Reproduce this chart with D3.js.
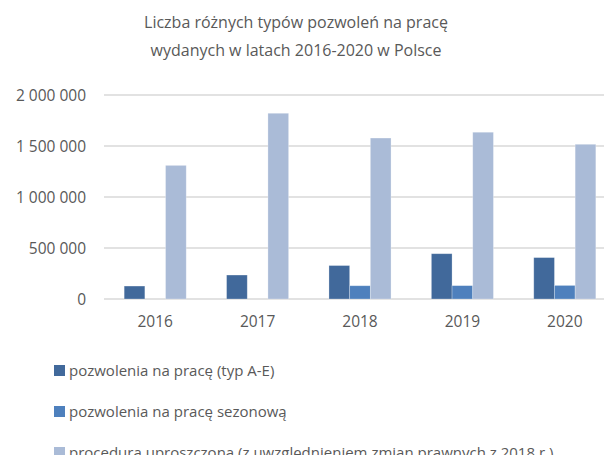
<!DOCTYPE html>
<html>
<head>
<meta charset="utf-8">
<script src="https://cdn.jsdelivr.net/npm/d3@7"></script>
<style>
  html, body { margin: 0; padding: 0; background: #fff; }
  svg { display: block; }
  text { font-family: "Open Sans", "Liberation Sans", sans-serif; fill: #595959; }
</style>
</head>
<body>
<svg id="chart" width="604" height="455"></svg>
<script>
const years = ["2016", "2017", "2018", "2019", "2020"];
const seriesNames = [
  "pozwolenia na pracę (typ A-E)",
  "pozwolenia na pracę sezonową",
  "procedura uproszczona (z uwzględnieniem zmian prawnych z 2018 r.)"
];
const typAE = [127000, 235000, 328000, 444000, 406000];
const sezonowe = [0, 0, 130000, 131000, 133000];
const uproszczona = [1310000, 1821000, 1578000, 1635000, 1517000];
const yTicks = [0, 500000, 1000000, 1500000, 2000000];
const titleLines = ["Liczba różnych typów pozwoleń na pracę", "wydanych w latach 2016-2020 w Polsce"];
const colors = ["#41699b", "#4e80bd", "#aabbd7"];

const seriesData = [typAE, sezonowe, uproszczona];

const svg = d3.select("#chart");

const x0 = d3.scaleBand().domain(years).range([104, 616]).paddingInner(0).paddingOuter(0);
const x1 = d3.scaleBand().domain(d3.range(seriesNames.length)).range([0, x0.bandwidth()]).paddingInner(0).paddingOuter(0.975);
const y = d3.scaleLinear().domain([0, 2000000]).range([299, 95]);

const fmt = v => d3.format(",")(v).replace(/,/g, " ");

// gridlines
svg.append("g")
  .selectAll("line")
  .data(yTicks)
  .join("line")
  .attr("x1", 104).attr("x2", 604)
  .attr("y1", d => y(d)).attr("y2", d => y(d))
  .attr("stroke", "#d9d9d9").attr("stroke-width", 1.3);

// y axis labels
const yAxis = d3.axisLeft(y).tickValues(yTicks).tickFormat(fmt).tickSize(0).tickPadding(0);
const gy = svg.append("g").attr("transform", "translate(86,0)").call(yAxis);
gy.select(".domain").remove();
gy.selectAll("text").attr("font-size", "15.5px").attr("font-family", null).attr("fill", "#595959").attr("dy", "0.35em");

// x axis labels
const xAxis = d3.axisBottom(x0).tickSize(0).tickPadding(0);
const gx = svg.append("g").attr("transform", "translate(0,316)").call(xAxis);
gx.select(".domain").remove();
gx.selectAll("text").attr("font-size", "15.5px").attr("font-family", null).attr("fill", "#595959").attr("dy", "0.71em");

// bars
const groups = svg.append("g").selectAll("g")
  .data(years)
  .join("g")
  .attr("transform", d => `translate(${x0(d)},0)`);

groups.selectAll("rect")
  .data((d, i) => seriesData.map((s, k) => ({k, v: s[i]})))
  .join("rect")
  .attr("x", d => x1(d.k))
  .attr("width", x1.bandwidth())
  .attr("y", d => y(d.v))
  .attr("height", d => y(0) - y(d.v))
  .attr("fill", d => colors[d.k])
  .attr("stroke", "#ffffff").attr("stroke-opacity", 0.35).attr("stroke-width", 0.75);

// title
svg.append("g").selectAll("text")
  .data(titleLines)
  .join("text")
  .attr("x", 296)
  .attr("y", (d, i) => 28 + i * 28)
  .attr("text-anchor", "middle")
  .attr("font-size", "16px")
  .text(d => d);

// legend
const leg = svg.append("g").selectAll("g")
  .data(seriesNames)
  .join("g")
  .attr("transform", (d, i) => `translate(54,${365 + i * 41})`);
leg.append("rect").attr("width", 11).attr("height", 11).attr("fill", (d, i) => colors[i]);
leg.append("text").attr("x", 15).attr("y", 11).attr("font-size", "15px").text(d => d);
</script>
</body>
</html>
